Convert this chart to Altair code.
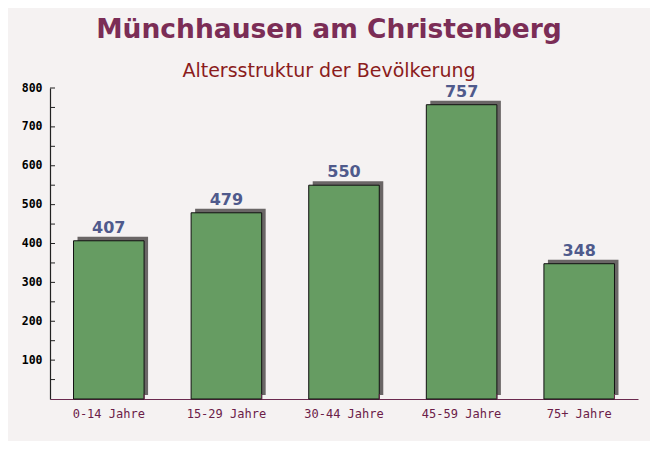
import altair as alt
import pandas as pd

categories = ["0-14 Jahre", "15-29 Jahre", "30-44 Jahre", "45-59 Jahre", "75+ Jahre"]
values = [407, 479, 550, 757, 348]
y_tick_values = list(range(50, 801, 50))
y_label_values = list(range(100, 801, 100))

df = pd.DataFrame({"Altersgruppe": categories, "Anzahl": values})
ticks_df = pd.DataFrame({"v": y_tick_values})

W, H = 588, 311

x_scale = alt.Scale(paddingInner=0.4, paddingOuter=0.2)
y_scale = alt.Scale(domain=[0, 800], nice=False)

x_axis = alt.Axis(
    title=None, labelAngle=0, ticks=False, domainColor="#6b2a4f", domainWidth=1.2,
    labelColor="#6b2048", labelFont="DejaVu Sans Mono", labelFontSize=12,
    labelPadding=9,
)
y_axis = alt.Axis(
    title=None, values=y_label_values, ticks=False, grid=False,
    domainColor="#222222", domainWidth=1.2,
    labelColor="#000000", labelFont="DejaVu Sans Mono", labelFontWeight="bold",
    labelFontSize=11.5, labelPadding=8,
)

base = alt.Chart(df)

shadow = base.mark_bar(color="#6a6666", xOffset=4, yOffset=-4).encode(
    x=alt.X("Altersgruppe:N", sort=categories, scale=x_scale, axis=x_axis),
    y=alt.Y("Anzahl:Q", scale=y_scale, axis=y_axis),
)

bars = base.mark_bar(color="#669c62", stroke="#111111", strokeWidth=1).encode(
    x=alt.X("Altersgruppe:N", sort=categories),
    y=alt.Y("Anzahl:Q"),
)

labels = base.mark_text(
    baseline="bottom", dy=-5, fontSize=16, fontWeight="bold",
    font="DejaVu Sans", color="#4f5a8c",
).encode(
    x=alt.X("Altersgruppe:N", sort=categories),
    y=alt.Y("Anzahl:Q"),
    text="Anzahl:Q",
)

x_ticks = base.mark_rule(color="#6b2a4f", strokeWidth=1).encode(
    x=alt.X("Altersgruppe:N", sort=categories, bandPosition=1),
    y=alt.value(H - 5),
    y2=alt.value(H),
)

y_ticks = alt.Chart(ticks_df).mark_rule(color="#222222", strokeWidth=1).encode(
    y=alt.Y("v:Q"),
    x=alt.value(0),
    x2=alt.value(5),
)

chart = alt.layer(shadow, bars, labels, x_ticks, y_ticks).properties(
    width=W,
    height=H,
    title=alt.TitleParams(
        text="Münchhausen am Christenberg",
        subtitle="Altersstruktur der Bevölkerung",
        anchor="middle", dx=-15, offset=1,
        font="DejaVu Sans", fontSize=26.5, fontWeight="bold", color="#7b2d56",
        subtitleFont="DejaVu Sans", subtitleFontSize=19, subtitleColor="#8b1c1c",
        subtitlePadding=19,
    ),
    background="#f5f2f2",
    padding={"left": 42, "top": 80, "right": 12, "bottom": 42},
    autosize=alt.AutoSizeParams(type="none"),
).configure_view(stroke=None)

chart.save("out.html", embed_options={"renderer": "svg", "actions": False})
